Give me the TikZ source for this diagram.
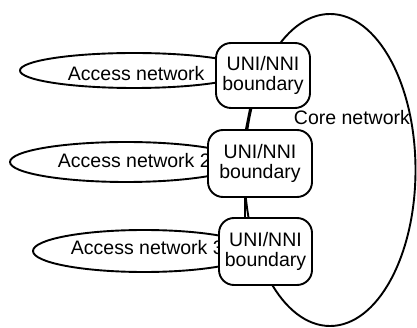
\documentclass[tikz,border=0pt]{standalone}
\usepackage{fontspec}
\setmainfont{Liberation Sans}
\usetikzlibrary{shapes.geometric}
\begin{document}
\begin{tikzpicture}[x=1pt, y=-1pt, line width=1.9pt,
  txt/.style={font=\fontsize{19.5}{20}\selectfont},
  access/.style={ellipse, draw, fill=white, inner sep=0pt},
  uni/.style={rectangle, rounded corners=15pt, draw, fill=white, align=center,
              inner sep=0pt, txt},
  lbl/.style={inner sep=0pt, anchor=base west, txt}]
\useasboundingbox (0,0) rectangle (417,328);

% core network cloud
\node[draw, ellipse, inner sep=0pt, minimum width=171pt, minimum height=312pt]
  (core) at (330,170) {};

% access networks
\node[access, minimum width=228pt, minimum height=35pt] (acc1) at (134,70.5) {};
\node[lbl] (acc1t) at (67,81) {Access network};
\node[access, minimum width=232pt, minimum height=40pt] (acc2) at (126,162) {};
\node[lbl] (acc2t) at (57,168) {Access network 2};
\node[access, minimum width=222pt, minimum height=42pt] (acc3) at (144,251) {};
\node[lbl] (acc3t) at (70,255) {Access network 3};

% UNI/NNI boundaries
\node[uni, minimum width=94pt, minimum height=65pt] (b1) at (263,75.5) {UNI/NNI\\boundary};
\node[uni, minimum width=104pt, minimum height=67pt] (b2) at (260,163.5) {UNI/NNI\\boundary};
\node[uni, minimum width=93pt, minimum height=67pt] (b3) at (265.5,251.5) {UNI/NNI\\boundary};

\draw ([xshift=-13pt]b1.south) -- ([xshift=-14pt]b2.north);
\draw ([xshift=-15pt]b2.south) -- ([xshift=-20.5pt]b3.north);

\node[lbl] (coret) at (293,125) {Core network};
\end{tikzpicture}
\end{document}
